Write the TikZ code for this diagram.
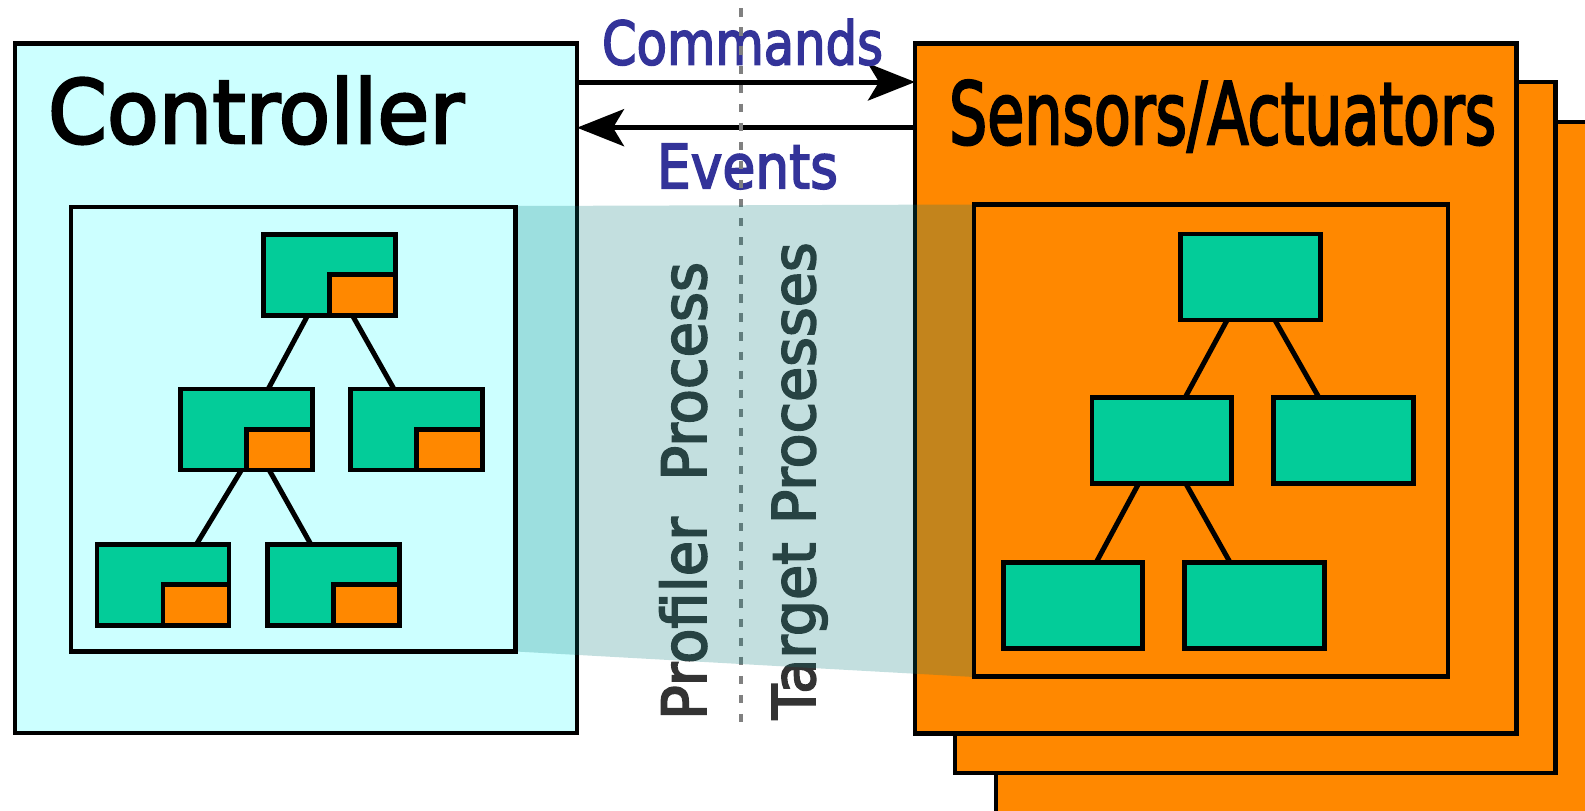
\documentclass[tikz,border=0pt]{standalone}
\usepackage{fontspec}
\setmainfont{DejaVu Sans}
\newfontfamily\comicish{DejaVu Sans}[FakeBold=3]
\usepackage{graphicx}
\usetikzlibrary{arrows.meta,calc}
\definecolor{ctrlfill}{HTML}{CCFFFF}
\definecolor{orng}{HTML}{FF8800}
\definecolor{grn}{HTML}{03CC99}
\definecolor{bandc}{HTML}{007777}
\definecolor{navy}{HTML}{333399}
\definecolor{txtgray}{HTML}{333333}
\definecolor{dashgray}{HTML}{808080}
\newcommand\fitt[3]{\resizebox{#1pt}{\height}{\fontsize{#2pt}{#2pt}\comicish #3}}
\begin{document}
\begin{tikzpicture}[x=1pt,y=1pt,
  panel/.style={draw=black, line width=4.8pt, inner sep=0pt, outer sep=0pt},
  lbox/.style={draw=black, fill=grn, line width=4.8pt, inner sep=0pt, outer sep=0pt, minimum width=132pt, minimum height=81pt},
  rbox/.style={draw=black, fill=grn, line width=4.8pt, inner sep=0pt, outer sep=0pt, minimum width=139.5pt, minimum height=86pt},
  obox/.style={draw=black, fill=orng, line width=4.8pt, inner sep=0pt, outer sep=0pt, anchor=south east, minimum width=66pt, minimum height=40.5pt},
  link/.style={draw=black, line width=5pt},
  arr/.style={draw=black, line width=5pt, -{Stealth[length=47pt, width=37pt, inset=11pt]}},
  dashline/.style={draw=dashgray, line width=4.5pt, dash pattern=on 8.3pt off 10.77pt},
  lbl/.style={inner sep=0pt, outer sep=0pt, anchor=base west}]
\useasboundingbox (0,0) rectangle (1585,-811);
\clip (0,0) rectangle (1585,-811);

% stacked sensor panels
\node[panel, fill=orng, minimum width=600pt, minimum height=694pt] (s3) at (1296,-469) {};
\node[panel, fill=orng, minimum width=600.5pt, minimum height=691pt] (s2) at (1255.25,-427.5) {};
\node[panel, fill=orng, minimum width=601.5pt, minimum height=690pt] (sens) at (1215.75,-388.5) {};
% controller panel
\node[panel, fill=ctrlfill, minimum width=562pt, minimum height=689.5pt] (ctrl) at (296,-388.25) {};

% titles
\node[lbl] (tctrl) at (48,-143) {\fitt{416}{88}{Controller}};
\node[lbl] (tsens) at (949,-144) {\fitt{547}{86}{Sensors/Actuators}};

% arrows
\coordinate (cy) at (0,-82);
\coordinate (ey) at (0,-127.7);
\draw[arr] (cy -| ctrl.east) -- (cy -| sens.west);
\draw[arr] (ey -| sens.west) -- (ey -| ctrl.east);
\node[lbl, text=navy] (tcmd) at (602,-64.5) {\fitt{281}{60}{Commands}};
\node[lbl, text=navy] (tevt) at (657,-188.3) {\fitt{181}{61}{Events}};

% vertical labels
\node[lbl, rotate=90, text=txtgray] (tprof) at (706,-720) {\fitt{458}{61}{Profiler\ \ Process}};
\node[lbl, rotate=90, text=txtgray] (ttarg) at (815,-719.3) {\fitt{477}{59}{Target Processes}};

% dashed divider
\coordinate (dtop) at (741,-8.3);
\coordinate (dbot) at (741,-732.7);
\draw[dashline] (dtop) -- (dbot);

% translucent band
\fill[bandc, fill opacity=0.235] (516,-206) -- (974,-204.5) -- (974,-677) -- (516,-651.5) -- cycle;

% inner panels
\node[panel, minimum width=444.5pt, minimum height=444.5pt] (lin) at (293.25,-429.25) {};
\node[panel, minimum width=474pt, minimum height=472pt] (rin) at (1211,-440.5) {};

% left tree
\coordinate (ltc) at (329.5,-274.75);
\coordinate (lmlc) at (246.5,-429.5);
\coordinate (lmrc) at (416.75,-429.5);
\coordinate (lblc) at (163,-584.75);
\coordinate (lbrc) at (333.5,-584.75);
\draw[link] (ltc) -- (lmlc);
\draw[link] (ltc) -- (lmrc);
\draw[link] ($(lmlc)+(19.5,0)$) -- ($(lblc)+(10,1.75)$);
\draw[link] (lmlc) -- (lbrc);
\node[lbox] (lt) at (ltc) {};
\node[obox] (lto) at (lt.south east) {};
\node[lbox] (lml) at (lmlc) {};
\node[obox] (lmlo) at (lml.south east) {};
\node[lbox] (lmr) at (lmrc) {};
\node[obox] (lmro) at (lmr.south east) {};
\node[lbox] (lbl) at (lblc) {};
\node[obox] (lblo) at (lbl.south east) {};
\node[lbox] (lbr) at (lbrc) {};
\node[obox] (lbro) at (lbr.south east) {};

% right tree
\coordinate (rtc) at (1250.5,-277);
\coordinate (rmlc) at (1161.7,-440.7);
\coordinate (rmrc) at (1343.4,-440.7);
\coordinate (rblc) at (1072.9,-605.7);
\coordinate (rbrc) at (1254.4,-605.7);
\draw[link] (rtc) -- (rmlc);
\draw[link] (rtc) -- (rmrc);
\draw[link] (rmlc) -- (rblc);
\draw[link] (rmlc) -- (rbrc);
\node[rbox] (rt) at (rtc) {};
\node[rbox] (rml) at (rmlc) {};
\node[rbox] (rmr) at (rmrc) {};
\node[rbox] (rbl) at (rblc) {};
\node[rbox] (rbr) at (rbrc) {};
\end{tikzpicture}
\end{document}
